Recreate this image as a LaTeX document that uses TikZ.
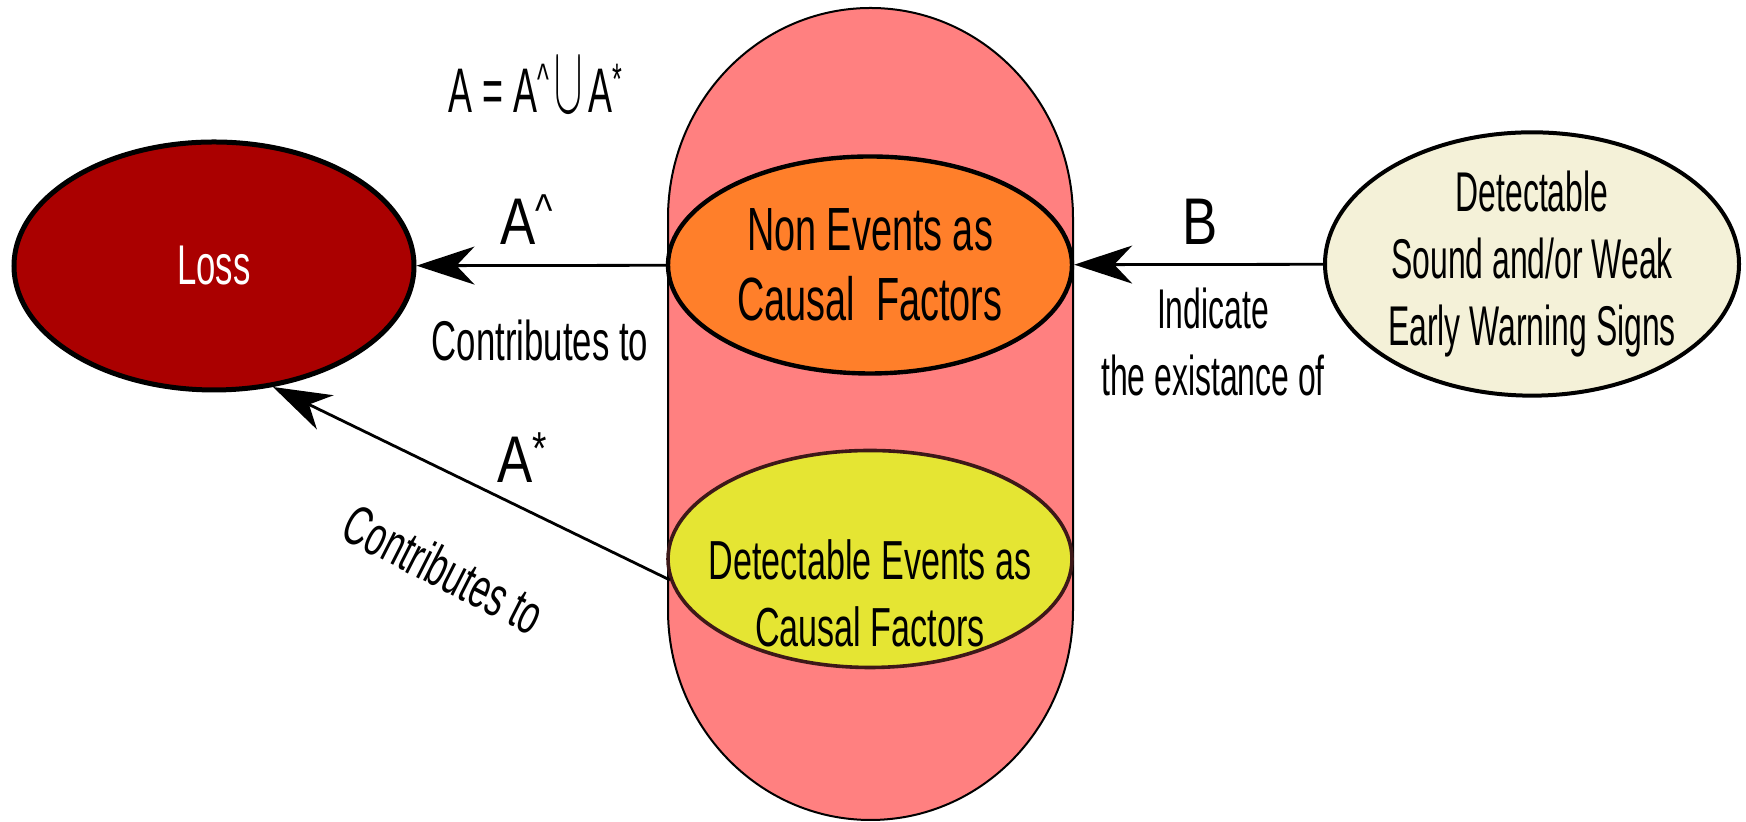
\documentclass[tikz,border=0pt]{standalone}
\usepackage{fontspec}
\setmainfont{Liberation Sans}[FakeStretch=0.57]
\newfontfamily\widefont{Liberation Sans}[FakeStretch=0.62]
\newfontfamily\labfont{Liberation Sans}[FakeStretch=0.8]
\usepackage{tikz}
\usetikzlibrary{arrows.meta,positioning,shapes.geometric}
\definecolor{lossred}{HTML}{AA0000}
\definecolor{pillpink}{HTML}{FF8080}
\definecolor{nonorange}{HTML}{FF7F2A}
\definecolor{detyellow}{HTML}{E5E533}
\definecolor{signcream}{HTML}{F4F1D8}
\definecolor{darkrim}{HTML}{3D1818}
\newcommand{\hatsup}{\textsuperscript{\textasciicircum}}

\begin{document}
\begin{tikzpicture}[
  x=0.5pt, y=0.5pt,
  ell/.style={ellipse, draw=black, line width=2.2pt, inner sep=0pt, align=center,
              font=\fontsize{28}{33.5}\selectfont},
  txt/.style={inner sep=0pt, align=center, font=\fontsize{28}{33.5}\selectfont},
  wtxt/.style={txt, font=\widefont\fontsize{28}{33.5}\selectfont},
  big/.style={inner sep=0pt, font=\labfont\fontsize{33}{40}\selectfont},
  arr/.style={-{Stealth[length=29pt, width=19pt, inset=9pt]}, line width=1.4pt, black}
]
\useasboundingbox (0,0) rectangle (1746,822);
\draw[fill=pillpink, line width=1pt] (668,604)
  arc[start angle=180, end angle=0, x radius=101.25pt, y radius=105pt] -- (1073,212)
  arc[start angle=0, end angle=-180, x radius=101.25pt, y radius=105pt] -- cycle;
\node[ell, fill=lossred, text=white, line width=2.5pt, minimum width=200pt, minimum height=124pt,
      font=\widefont\fontsize{28}{33.5}\selectfont]
  (loss) at (214,556) {Loss};
\node[ell, fill=nonorange, minimum width=202pt, minimum height=108.5pt,
      font=\widefont\fontsize{30.5}{35}\selectfont]
  (nonev) at (870,557) {Non Events as\\ Causal~ Factors};
\node[ell, fill=detyellow, draw=darkrim, line width=1.8pt, minimum width=202pt, minimum height=108.5pt]
  (detev) at (870,263) {};
\node[txt, font=\widefont\fontsize{27.5}{33.5}\selectfont] (detevtext) at ([yshift=-17pt]detev.center)
  {Detectable Events as\\ Causal Factors};
\node[ell, fill=signcream, line width=2pt, minimum width=207pt, minimum height=131pt]
  (signs) at (1532,558) {Detectable\\ Sound and/or Weak\\ Early Warning Signs};
\draw[arr] (nonev) -- (loss);
\draw[arr] (signs) -- (nonev);
\draw[arr] (detev.186) -- (loss.-64);
\node[big, anchor=base west] (ahat) at (500,577) {A\hatsup};
\node[big, anchor=base west] (astar) at (497,339) {A\textsuperscript{*}};
\node[big, anchor=base] (bl) at (1200,577) {B};
\node[wtxt, anchor=base] (contr1) at (540,461) {Contributes to};
\node[wtxt, rotate=-27] (contr2) at (444,253) {Contributes to};
\node[txt] (indic) at (1213,480) {Indicate\\ the existance of};
\node[txt, anchor=base, font=\fontsize{31.5}{38}\selectfont] (union) at (536,709)
  {A = A\hatsup\kern2pt\scalebox{0.85}[1.95]{$\cup$}\kern3pt A\textsuperscript{*}};
\end{tikzpicture}
\end{document}
